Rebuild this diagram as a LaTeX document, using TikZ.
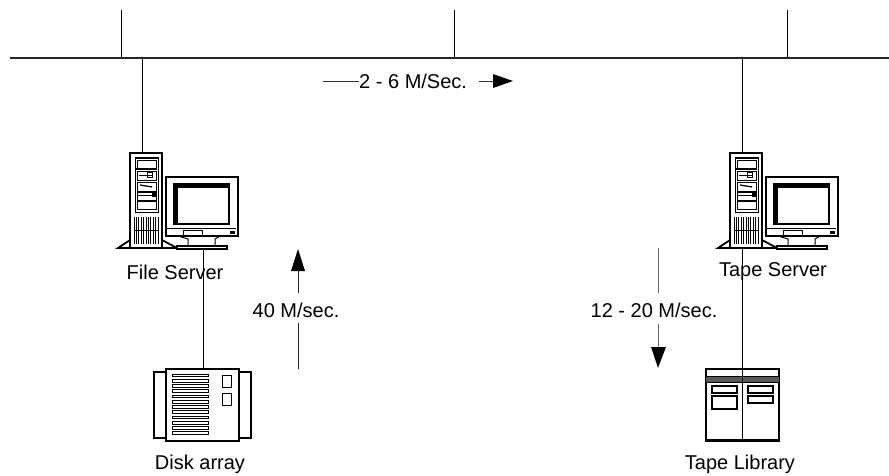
\documentclass[tikz,border=0pt]{standalone}
\usepackage{fontspec}
\setmainfont{Liberation Sans}
\usetikzlibrary{arrows.meta}
\tikzset{
  x=1pt,y=-1pt,
  label text/.style={font=\fontsize{20}{22}\selectfont,inner sep=0pt},
  wire/.style={line width=1pt,black},
  bus/.style={line width=1.3pt,black!85},
  flow/.style={line width=1pt,black!60},
  head/.style={fill=black,draw=none},
  part/.style={draw=black,line width=1pt,fill=white},
  heavy/.style={draw=black,line width=1.8pt,fill=white},
  anchorpt/.style={inner sep=0pt,minimum size=0pt},
  pics/serverset/.style={code={
    % feet
    \draw[heavy] (-12,95)--(0,87)--(0,95)--cycle;
    \draw[heavy] (32,87)--(47,95)--(32,95)--cycle;
    % tower
    \draw[heavy] (0,0) rectangle (32,95);
    \draw[part,line width=.8pt] (5,4) rectangle (28,59);
    \fill (5,4) rectangle (28,6);
    \draw[part,line width=.7pt] (7,7) rectangle (26,15);
    \fill (6,15) rectangle (27,17);
    \draw[part,line width=.7pt] (7,18) rectangle (26,27);
    \fill (17,19) rectangle (23,25);
    \fill[white] (18,20) rectangle (22,24);
    \draw[line width=.9pt] (9,22)--(22,22);
    \draw[part,line width=.7pt] (7,29) rectangle (26,38);
    \draw[line width=1.3pt] (10,32)--(22,34);
    \draw[part,line width=.7pt] (7,39) rectangle (26,47);
    \draw[line width=.7pt] (7,42)--(22,42);
    \fill (22,40) rectangle (26,44);
    \draw[part,line width=.7pt] (7,48) rectangle (26,56);
    \foreach \i in {0,...,10}{\draw[line width=.9pt] (4+\i*2.4,64)--(4+\i*2.4,91);}
    \draw[line width=.8pt] (4,77)--(28,77);
    % monitor
    \draw[part] (48,83)--(90,83)--(85,86)--(85,93)--(58,93)--(58,86)--cycle;
    \draw[heavy,line width=1.3pt] (47,93) rectangle (97,96);
    \draw[heavy,line width=1.4pt] (36,24) rectangle (108,83);
    \fill (43,30) rectangle (100,72);
    \fill[white] (48,35) rectangle (98,70);
    \draw[line width=.7pt] (53,77) rectangle (72,83);
    \draw[line width=.6pt] (37,75)--(106,75);
    \fill (100,78) rectangle (105,81);
  }},
  pics/diskset/.style={code={
    \draw[heavy] (-12,3) rectangle (0,69);
    \draw[heavy] (73,3) rectangle (85,69);
    \draw[heavy] (0,0) rectangle (73,72);
    \foreach \i in {0,...,11}{\draw[part,line width=.7pt] (6,5+\i*5.25) rectangle (42,7.8+\i*5.25);}
    \draw[part] (56,6) rectangle (65,18);
    \draw[part] (56,24) rectangle (65,36);
  }},
  pics/tapeset/.style={code={
    \draw[heavy] (0,0) rectangle (73,72);
    \fill[black!65] (0,7) rectangle (73,13);
    \draw[line width=1pt] (0,7)--(73,7) (0,13)--(73,13);
    \fill (0,70) rectangle (73,73);
    \draw[line width=1.6pt] (36.5,0)--(36.5,72);
    \draw[part,line width=1.2pt] (6,17) rectangle (31,24);
    \draw[part,line width=1.2pt] (6,27) rectangle (31,40);
    \draw[part,line width=1.2pt] (42,17) rectangle (67,24);
    \draw[part,line width=1.2pt] (42,27) rectangle (67,34);
  }}
}
\begin{document}
\begin{tikzpicture}
\useasboundingbox (0,0) rectangle (889,475);
% named anchors
\coordinate (busL) at (10,58);
\coordinate (busR) at (889,58);
\coordinate (t1) at (121,10); \coordinate (b1) at (121,58);
\coordinate (t2) at (454,10); \coordinate (b2) at (454,58);
\coordinate (t3) at (787,10); \coordinate (b3) at (787,58);
\coordinate (fsb) at (142,58); \coordinate (tsb) at (742,58);
\node[anchorpt] (fileTop) at (142,153) {};
\node[anchorpt] (fileBase) at (203,249) {};
\node[anchorpt] (tapeTop) at (742,153) {};
\node[anchorpt] (tapeBase) at (742,249) {};
\node[anchorpt] (diskTop) at (203,369) {};
\node[anchorpt] (libTop) at (742,369) {};

\draw[bus] (busL)--(busR);
\draw[wire] (t1)--(b1);
\draw[wire] (t2)--(b2);
\draw[wire] (t3)--(b3);
\draw[wire] (fsb)--(fileTop);
\draw[wire] (tsb)--(tapeTop);
\draw[wire] (fileBase)--(diskTop);
\draw[wire] (tapeBase)--(libTop);

\pic at (130,153) {serverset};
\pic at (730,153) {serverset};
\pic at (166,369) {diskset};
\pic at (706,369) {tapeset};

\node[label text] (lblFile) at (175,272) {File Server};
\node[label text] (lblTape) at (773,272) {Tape Server};
\node[label text] (lblDisk) at (200,464) {Disk array};
\node[label text] (lblLib) at (740,464) {Tape Library};

% rate 2-6
\node[label text,anchor=west] (r26) at (359,81) {2 - 6 M/Sec.};
\coordinate (r26a) at (323,81);
\coordinate (r26b) at (493,81);
\coordinate (r26c) at (479,81);
\draw[flow,black!80] (r26a)--(r26.west);
\draw[flow,black!80] (r26c)--(r26b);
\fill[head] (493,74)--(513,81)--(493,88)--cycle;

% rate 40
\node[label text] (r40) at (296,310) {40 M/sec.};
\coordinate (u1) at (298,369);
\coordinate (u1b) at (298,323);
\coordinate (u2b) at (298,293);
\coordinate (u2) at (298,271);
\draw[flow,black!85] (u1)--(u1b);
\draw[flow,black!85] (u2b)--(u2);
\fill[head] (291,271)--(298,249)--(305,271)--cycle;

% rate 12-20
\node[label text] (r12) at (654,310) {12 - 20 M/sec.};
\coordinate (d1) at (658,248);
\coordinate (d1b) at (658,293);
\coordinate (d2b) at (658,324);
\coordinate (d2) at (658,347);
\draw[flow] (d1)--(d1b);
\draw[flow] (d2b)--(d2);
\fill[head] (651,347)--(658,368)--(666,347)--cycle;
\end{tikzpicture}
\end{document}
